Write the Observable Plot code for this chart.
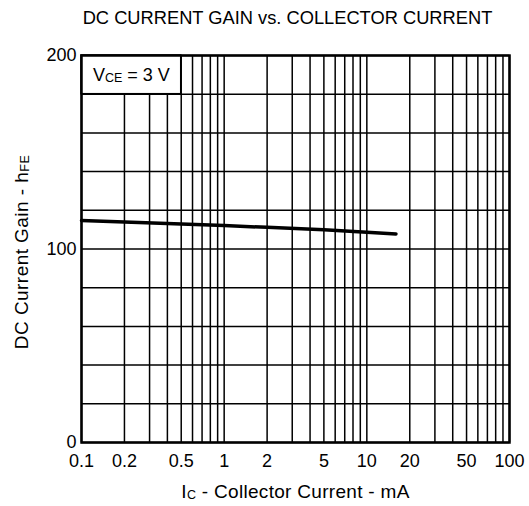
<!DOCTYPE html>
<html>
<head>
<meta charset="utf-8">
<script src="https://cdn.jsdelivr.net/npm/d3@7"></script>
<script src="https://cdn.jsdelivr.net/npm/@observablehq/plot@0.6"></script>
<style>
  html, body { margin: 0; padding: 0; background: #fff; }
  svg { display: block; }
</style>
</head>
<body>
<div id="chart"></div>
<script>
// ---- data ----
const currentMA = [0.1, 0.2, 0.5, 1, 2, 5, 10, 16];
const gainHFE   = [114.7, 113.9, 112.9, 112.1, 111.2, 109.9, 108.7, 107.8];

const xTickValues = [0.1, 0.2, 0.5, 1, 2, 5, 10, 20, 50, 100];
const xTickLabels = ["0.1", "0.2", "0.5", "1", "2", "5", "10", "20", "50", "100"];
const yTickValues = [0, 100, 200];
const xGridValues = [0.1, 0.2, 0.3, 0.4, 0.5, 0.6, 0.7, 0.8, 0.9,
                     1, 2, 3, 4, 5, 6, 7, 8, 9,
                     10, 20, 30, 40, 50, 60, 70, 80, 90, 100];
const yGridValues = [0, 20, 40, 60, 80, 100, 120, 140, 160, 180, 200];

const titleText = "DC CURRENT GAIN vs. COLLECTOR CURRENT";
const xLabelParts = [["I", false], ["C", true], [" - Collector Current - mA", false]];
const yLabelParts = [["DC Current Gain - h", false], ["FE", true]];
const condParts   = [["V", false], ["CE", true], [" = 3 V", false]];
const condBoxX = [0.1, 0.5];
const condBoxY = [180, 200];

const curve = currentMA.map((x, i) => ({x, y: gainHFE[i]}));
const font = "'Liberation Sans', Arial, Helvetica, sans-serif";

const chart = Plot.plot({
  width: 529,
  height: 506,
  marginLeft: 81,
  marginRight: 20,
  marginTop: 55,
  marginBottom: 64,
  style: {fontFamily: font, fontSize: "18px", color: "#000", background: "#fff"},
  x: {type: "log", domain: [0.1, 100], axis: null},
  y: {type: "linear", domain: [0, 200]},
  marks: [
    Plot.gridX(xGridValues, {stroke: "#000", strokeOpacity: 1, strokeWidth: 1.5}),
    Plot.gridY(yGridValues, {stroke: "#000", strokeOpacity: 1, strokeWidth: 1.5}),
    Plot.rect([{}], {x1: () => condBoxX[0], x2: () => condBoxX[1], y1: () => condBoxY[0], y2: () => condBoxY[1],
      fill: "#fff", stroke: "#000", strokeWidth: 1.5}),
    Plot.text([condParts.map(p => p[0]).join("")], {
      x: () => Math.sqrt(condBoxX[0] * condBoxX[1]),
      y: () => (condBoxY[0] + condBoxY[1]) / 2,
      text: d => d, fontSize: 18, fill: "#000", className: "cond-label"}),
    Plot.line(curve, {x: "x", y: "y", stroke: "#000", strokeWidth: 3.5}),
    Plot.frame({stroke: "#000", strokeWidth: 2.5}),
    // x tick labels (drawn via the x scale)
    Plot.text(xTickValues, {x: d => d, frameAnchor: "bottom", dy: 19, lineAnchor: "middle",
      text: (d, i) => xTickLabels[i], fontSize: 18, fill: "#000"}),
    Plot.axisY({ticks: yTickValues, tickSize: 0, tickPadding: 5, fontSize: 18, label: null}),
    Plot.text([titleText], {frameAnchor: "top", dy: -37, dx: -8, text: d => d,
      fontSize: 18.3, fill: "#000", lineAnchor: "middle", textAnchor: "middle"}),
    Plot.text([xLabelParts.map(p => p[0]).join("")], {frameAnchor: "bottom", dy: 49, text: d => d,
      fontSize: 19, fill: "#000", lineAnchor: "middle", textAnchor: "middle", className: "x-label"}),
    Plot.text([yLabelParts.map(p => p[0]).join("")], {frameAnchor: "left", dx: -60, dy: 3, rotate: -90,
      text: d => d, fontSize: 19, fill: "#000", lineAnchor: "middle", textAnchor: "middle", className: "y-label"})
  ]
});

function withSubscripts(selector, parts, spacing) {
  d3.select(chart).selectAll(selector + " text").each(function() {
    const t = d3.select(this);
    t.text(null);
    if (spacing) t.attr("letter-spacing", spacing);
    let shifted = false;
    for (const [str, isSub] of parts) {
      const ts = t.append("tspan").text(str);
      if (isSub) { ts.attr("font-size", "12.5px").attr("dy", "1px"); shifted = true; }
      else if (shifted) { ts.attr("dy", "-1px"); shifted = false; }
    }
  });
}
withSubscripts(".x-label", xLabelParts, "0.3px");
withSubscripts(".y-label", yLabelParts, "0.45px");
withSubscripts(".cond-label", condParts, null);

document.getElementById("chart").appendChild(chart);
</script>
</body>
</html>
